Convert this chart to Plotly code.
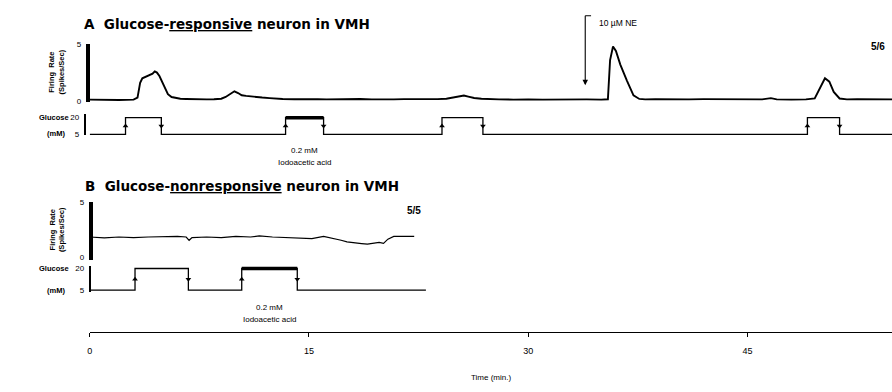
import plotly.graph_objects as go

W, H = 892, 392

# ---------------- data ----------------
# Panel A: glucose-responsive neuron, firing rate (spikes/sec) vs time (min)
a_time = [0, 0.5, 1.0, 1.5, 2.0, 2.5, 3.0, 3.27, 3.45, 3.6, 3.8, 4.0, 4.15, 4.3, 4.45, 4.6, 4.77,
          4.95, 5.15, 5.35, 5.6, 5.9, 6.2, 6.6, 7.0, 7.5, 8.0, 8.5, 9.0, 9.3, 9.6, 9.9, 10.15,
          10.4, 10.7, 11.1, 11.5, 11.8, 12.3, 12.8, 13.2, 14.0, 14.6, 15.0, 15.6, 16.2, 17.0,
          17.8, 18.5, 19.3, 20.0, 20.8, 21.5, 22.3, 23.0, 23.8, 24.4, 24.9, 25.3, 25.6, 25.9,
          26.3, 26.8, 27.3, 28.0, 29.0, 29.5, 30.0, 31.0, 32.0, 33.0, 34.0, 35.0, 35.45, 35.6,
          35.8, 36.0, 36.3, 36.75, 37.2, 37.6, 38.0, 38.7, 39.5, 40.2, 41.0, 42.0, 43.0, 44.0,
          45.0, 46.0, 46.6, 47.0, 48.0, 49.0, 49.6, 50.0, 50.3, 50.6, 50.9, 51.3, 51.8, 52.5,
          53.2, 54.0, 54.9]
a_rate = [0.12, 0.1, 0.09, 0.11, 0.09, 0.1, 0.12, 0.3, 1.6, 2.0, 2.1, 2.2, 2.3, 2.4, 2.6, 2.5, 2.2,
          1.7, 1.1, 0.6, 0.35, 0.25, 0.2, 0.18, 0.15, 0.14, 0.14, 0.15, 0.2, 0.35, 0.6, 0.85, 0.7,
          0.5, 0.45, 0.38, 0.32, 0.3, 0.25, 0.2, 0.18, 0.15, 0.17, 0.14, 0.16, 0.14, 0.17,
          0.14, 0.18, 0.14, 0.17, 0.14, 0.16, 0.14, 0.14, 0.16, 0.2, 0.3, 0.42, 0.48, 0.38,
          0.26, 0.2, 0.15, 0.14, 0.12, 0.16, 0.14, 0.12, 0.14, 0.12, 0.14, 0.12, 0.15, 3.6,
          4.8, 4.4, 3.2, 1.8, 0.5, 0.18, 0.14, 0.16, 0.14, 0.16, 0.14, 0.16, 0.14, 0.14,
          0.16, 0.14, 0.25, 0.14, 0.12, 0.14, 0.22, 1.3, 2.0, 1.7, 0.8, 0.22, 0.14, 0.16,
          0.14, 0.14, 0.14]

# Panel A glucose protocol (mM)
a_glu_time = [0, 2.45, 4.9, 13.4, 16.0, 24.1, 26.9, 49.1, 51.3, 54.9]
a_glu_conc = [5, 20, 5, 20, 5, 20, 5, 20, 5, 5]
a_iaa_time = [13.4, 16.0]          # 0.2 mM iodoacetic acid pulse (thick)
a_iaa_conc = [20, 20]
a_rise = [2.45, 13.4, 24.1, 49.1]
a_fall = [4.9, 16.0, 26.9, 51.3]
a_ne_time = 33.9                   # 10 uM NE application

# Panel B: glucose-nonresponsive neuron
b_time = [0, 1.0, 2.0, 3.0, 4.0, 5.0, 6.0, 6.6, 6.8, 7.0, 8.0, 9.0, 10.0, 11.0, 11.6, 12.5,
          13.5, 14.5, 15.2, 16.0, 16.6, 17.2, 17.6, 18.1, 18.6, 19.0, 19.4, 19.8, 20.1,
          20.4, 20.8, 21.5, 22.2]
b_rate = [1.8, 1.72, 1.8, 1.75, 1.8, 1.85, 1.85, 1.8, 1.5, 1.75, 1.8, 1.75, 1.85, 1.8, 1.9, 1.8,
          1.75, 1.7, 1.65, 1.85, 1.7, 1.5, 1.35, 1.25, 1.2, 1.15, 1.2, 1.3, 1.22,
          1.6, 1.85, 1.85, 1.85]
b_glu_time = [0, 3.1, 6.75, 10.4, 14.2, 23.0]
b_glu_conc = [5, 20, 5, 20, 5, 5]
b_iaa_time = [10.4, 14.2]
b_iaa_conc = [20, 20]
b_rise = [3.1, 10.4]
b_fall = [6.75, 14.2]

time_ticks = [0, 15, 30, 45]

# ---------------- layout helpers ----------------
PX_PER_MIN = 220 / 15.0
X0_PX = 87
T_END = (W - X0_PX) / PX_PER_MIN


def px(p):
    return p / W


def py(p):
    return 1 - p / H


def yrange(p_lo, p_hi, zero_px, zero_val, px_per_unit):
    return [zero_val + (zero_px - p_lo) / px_per_unit, zero_val + (zero_px - p_hi) / px_per_unit]


FONT = "Liberation Sans"
fig = go.Figure()


def add_line(x, y, ya, width, shape="linear"):
    fig.add_trace(go.Scatter(x=x, y=y, mode="lines", line=dict(color="black", width=width, shape=shape),
                             xaxis="x", yaxis=ya, hoverinfo="skip"))


def add_marks(x, level, ya, symbol):
    fig.add_trace(go.Scatter(x=x, y=[level] * len(x), mode="markers",
                             marker=dict(symbol=symbol, size=5, color="black"),
                             xaxis="x", yaxis=ya, hoverinfo="skip"))


# empty traces so that the scale-bar axes get drawn
for ya in ("y2", "y4", "y6", "y8"):
    fig.add_trace(go.Scatter(x=[None], y=[None], mode="lines", xaxis="x", yaxis=ya, hoverinfo="skip"))
# Panel A traces
add_line(a_time, a_rate, "y", 1.9)
add_line(a_glu_time, a_glu_conc, "y3", 1.3, "hv")
add_line(a_iaa_time, a_iaa_conc, "y3", 3.5)
add_marks(a_rise, 12.5, "y3", "triangle-up")
add_marks(a_fall, 12.5, "y3", "triangle-down")
# Panel B traces
add_line(b_time, b_rate, "y5", 1.2)
add_line(b_glu_time, b_glu_conc, "y7", 1.3, "hv")
add_line(b_iaa_time, b_iaa_conc, "y7", 3.5)
add_marks(b_rise, 12.5, "y7", "triangle-up")
add_marks(b_fall, 12.5, "y7", "triangle-down")

hidden = dict(visible=False, fixedrange=True)
tickf = dict(family=FONT, size=8, color="black")


def bar_axis(p_lo, p_hi, zero_px, zero_val, ppu, xpos, lw, tvals):
    return dict(domain=[py(p_lo), py(p_hi)], range=yrange(p_lo, p_hi, zero_px, zero_val, ppu),
                anchor="free", position=px(xpos), showline=True, linewidth=lw, linecolor="black",
                showgrid=False, zeroline=False, ticks="", tickvals=tvals, ticktext=[str(v) for v in tvals],
                tickfont=tickf, ticklabelstandoff=3, fixedrange=True)


fig.update_layout(
    width=W, height=H, margin=dict(l=0, r=0, t=0, b=0),
    paper_bgcolor="white", plot_bgcolor="rgba(0,0,0,0)", showlegend=False,
    xaxis=dict(domain=[px(X0_PX), 1], range=[0, T_END], anchor="free", position=py(335),
               showline=True, linewidth=1.2, linecolor="black", showgrid=False, zeroline=False,
               ticks="outside", ticklen=4, tickwidth=1, tickcolor="black", tickvals=time_ticks,
               ticklabelstandoff=6,
               tickfont=dict(family=FONT, size=9, color="black"), fixedrange=True),
    # A firing rate
    yaxis=dict(domain=[py(106), py(30)], range=yrange(106, 30, 99, 0, 11.6), **hidden),
    yaxis2=bar_axis(100, 41, 99, 0, 11.6, 85, 4, [0, 5]),
    # A glucose
    yaxis3=dict(domain=[py(140), py(106)], range=yrange(140, 106, 133, 5, 17 / 15), **hidden),
    yaxis4=bar_axis(134, 112, 133, 5, 17 / 15, 82, 2, [5, 20]),
    # B firing rate
    yaxis5=dict(domain=[py(266), py(195)], range=yrange(266, 195, 258, 0, 11.2), **hidden),
    yaxis6=bar_axis(261, 202, 258, 0, 11.2, 88, 4, [0, 5]),
    # B glucose
    yaxis7=dict(domain=[py(300), py(264)], range=yrange(300, 264, 292, 5, 22 / 15), **hidden),
    yaxis8=bar_axis(294, 267, 292, 5, 22 / 15, 87, 2, [5, 20]),
)

ann = []
TITLE_F = dict(family="DejaVu Sans", size=13.5, color="black")
ann.append(dict(text="<b>A  Glucose-<u>responsive</u> neuron in VMH</b>", x=px(79), y=py(20),
                xref="paper", yref="paper", xanchor="left", yanchor="middle", showarrow=False, font=TITLE_F))
ann.append(dict(text="<b>B  Glucose-<u>nonresponsive</u> neuron in VMH</b>", x=px(80), y=py(186),
                xref="paper", yref="paper", xanchor="left", yanchor="middle", showarrow=False, font=TITLE_F))
lab_f = dict(family=FONT, size=7.5, color="black")
for yc in (69, 230):
    ann.append(dict(text="<b>Firing  Rate<br>(Spikes/Sec)</b>", x=px(54), y=py(yc), xref="paper", yref="paper",
                    textangle=-90, showarrow=False, font=lab_f, xanchor="center", yanchor="middle"))
for ytop, ybot in ((116, 132), (270, 292)):
    ann.append(dict(text="<b>Glucose</b>", x=px(68), y=py(ytop), xref="paper", yref="paper",
                    xanchor="right", yanchor="middle", showarrow=False, font=lab_f))
    ann.append(dict(text="<b>(mM)</b>", x=px(64), y=py(ybot), xref="paper", yref="paper",
                    xanchor="right", yanchor="middle", showarrow=False, font=lab_f))
small_f = dict(family=FONT, size=8, color="black")
for xs, ytop in ((a_iaa_time, 150), (b_iaa_time, 310)):
    xc = (xs[0] + xs[1]) / 2
    ann.append(dict(text="0.2 mM", x=xc, y=py(ytop), xref="x", yref="paper", showarrow=False,
                    font=small_f, xanchor="center", yanchor="middle"))
    ann.append(dict(text="Iodoacetic acid", x=xc, y=py(ytop + 12), xref="x", yref="paper", showarrow=False,
                    font=small_f, xanchor="center", yanchor="middle"))
ann.append(dict(text="<b>5/6</b>", x=px(869), y=py(43), xref="paper", yref="paper", xanchor="left",
                yanchor="middle", showarrow=False, font=dict(family=FONT, size=10, color="black")))
ann.append(dict(text="<b>5/5</b>", x=px(403), y=py(211), xref="paper", yref="paper", xanchor="left",
                yanchor="middle", showarrow=False, font=dict(family=FONT, size=10, color="black")))
# NE arrow
ann.append(dict(text="", x=a_ne_time, y=py(83), xref="x", yref="paper", showarrow=True, ax=0, ay=-71,
                arrowhead=2, arrowsize=1, arrowwidth=1.1, arrowcolor="black"))
ann.append(dict(text="10 µM NE", x=a_ne_time + 0.8, y=py(19), xref="x", yref="paper", xanchor="left",
                yanchor="middle", showarrow=False, font=dict(family=FONT, size=8.5, color="black")))
ann.append(dict(text="Time (min.)", x=px(490), y=py(381), xref="paper", yref="paper", showarrow=False,
                font=dict(family=FONT, size=8, color="black"), xanchor="center", yanchor="middle"))
fig.update_layout(annotations=ann)
fig.add_shape(type="line", xref="x", yref="paper", x0=a_ne_time, x1=a_ne_time + 0.4, y0=py(12), y1=py(12),
              line=dict(color="black", width=1))

fig.write_html("out.html")
